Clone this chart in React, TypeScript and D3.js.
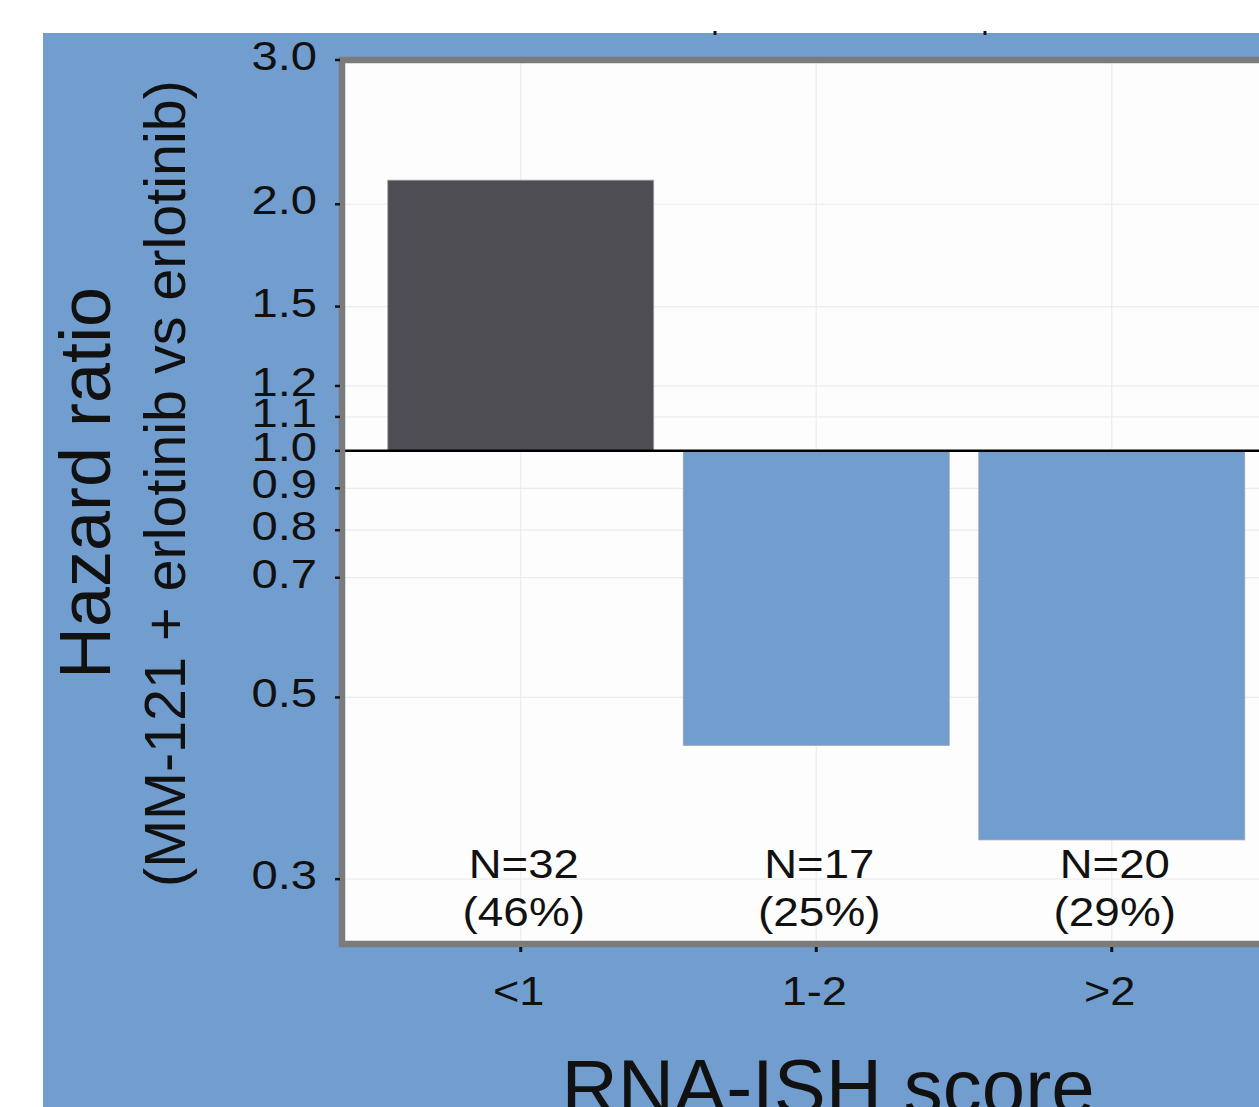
import * as d3 from 'd3'

const CATEGORIES = ['<1', '1-2', '>2']
const HAZARD_RATIOS = [2.14, 0.437, 0.335]
const COUNTS = [32, 17, 20]
const PERCENTS = [46, 25, 29]
const Y_TICKS = [0.3, 0.5, 0.7, 0.8, 0.9, 1.0, 1.1, 1.2, 1.5, 2.0, 3.0]

const W = 1259
const H = 1107
const BG = '#729ecf'
const DARK = '#4e4d53'
const FONT = '"Liberation Sans", Arial, Helvetica, sans-serif'

const PANEL = { left: 342, top: 60, right: 1300, bottom: 944 }

// the source figure's small labels are a bit stretched horizontally
const at = (px: number, py: number, sx: number) => `translate(${px},${py}) scale(${sx},1)`

export default function App() {
  const y = d3.scaleLog().domain([0.25, 3]).range([PANEL.bottom, PANEL.top])
  const x = d3
    .scaleBand<string>()
    .domain(CATEGORIES)
    .range([373, 1259.5])
    .paddingInner(0.1)
    .paddingOuter(0.05)

  const y1 = y(1)
  const mid = (c: string) => (x(c) ?? 0) + x.bandwidth() / 2

  return (
    <svg
      width={W}
      height={H}
      style={{ position: 'absolute', left: 0, top: 0, display: 'block' }}
      fontFamily={FONT}
    >
      <rect x={0} y={0} width={W} height={H} fill="#ffffff" />
      {/* blue figure background */}
      <rect x={43} y={33} width={W - 43} height={H - 33} fill={BG} />
      {/* small marks cut off at the top */}
      <line x1={715} x2={715} y1={31} y2={35} stroke="#111" strokeWidth={3} />
      <line x1={985} x2={985} y1={31} y2={35} stroke="#111" strokeWidth={3} />

      {/* panel */}
      <rect
        x={PANEL.left}
        y={PANEL.top}
        width={PANEL.right - PANEL.left}
        height={PANEL.bottom - PANEL.top}
        fill="#fdfdfd"
      />

      {/* grid */}
      {Y_TICKS.map((t) => (
        <line
          key={`gy-${t}`}
          x1={PANEL.left}
          x2={PANEL.right}
          y1={y(t)}
          y2={y(t)}
          stroke="#ececec"
          strokeWidth={1.2}
        />
      ))}
      {CATEGORIES.map((c) => (
        <line
          key={`gx-${c}`}
          x1={mid(c)}
          x2={mid(c)}
          y1={PANEL.top}
          y2={PANEL.bottom}
          stroke="#ececec"
          strokeWidth={1.2}
        />
      ))}

      {/* bars */}
      {CATEGORIES.map((c, i) => {
        const v = HAZARD_RATIOS[i]
        const yv = y(v)
        return (
          <rect
            key={`bar-${c}`}
            x={x(c)}
            y={Math.min(yv, y1)}
            width={x.bandwidth()}
            height={Math.abs(yv - y1)}
            fill={v > 1 ? DARK : BG}
            stroke="#9aa0a8"
            strokeWidth={0.8}
          />
        )
      })}

      {/* reference line at HR = 1 */}
      <line x1={PANEL.left} x2={PANEL.right} y1={y1} y2={y1} stroke="#000" strokeWidth={2.5} />

      {/* N labels */}
      {CATEGORIES.map((c, i) => (
        <g key={`n-${c}`} fontSize={41} fill="#111" textAnchor="middle">
          <text transform={at(mid(c) + 3, 878, 1.11)}>{`N=${COUNTS[i]}`}</text>
          <text transform={at(mid(c) + 3, 926, 1.12)}>{`(${PERCENTS[i]}%)`}</text>
        </g>
      ))}

      {/* panel border */}
      <rect
        x={PANEL.left}
        y={PANEL.top}
        width={PANEL.right - PANEL.left}
        height={PANEL.bottom - PANEL.top}
        fill="none"
        stroke="#7b7b7b"
        strokeWidth={6.5}
      />

      {/* y axis ticks and labels */}
      {Y_TICKS.map((t) => (
        <g key={`ty-${t}`}>
          <line x1={335} x2={340} y1={y(t)} y2={y(t)} stroke="#111" strokeWidth={2.5} />
          <text transform={at(317, y(t) + 10, 1.18)} fontSize={40} textAnchor="end" fill="#111">
            {t.toFixed(1)}
          </text>
        </g>
      ))}

      {/* x axis ticks and labels */}
      {CATEGORIES.map((c) => (
        <g key={`tx-${c}`}>
          <line x1={mid(c)} x2={mid(c)} y1={947} y2={952} stroke="#111" strokeWidth={3} />
          <text transform={at(mid(c) - 2, 1005, 1.1)} fontSize={41} textAnchor="middle" fill="#111">
            {c}
          </text>
        </g>
      ))}

      {/* axis titles */}
      <text x={828} y={1114} fontSize={78} textAnchor="middle" fill="#111">
        RNA-ISH score
      </text>
      <text
        transform="translate(110, 679) rotate(-90)"
        fontSize={72}
        textAnchor="start"
        fill="#111"
      >
        Hazard ratio
      </text>
      <text
        transform="translate(185, 887) rotate(-90)"
        fontSize={57.5}
        textAnchor="start"
        fill="#111"
      >
        (MM-121 + erlotinib vs erlotinib)
      </text>
    </svg>
  )
}
